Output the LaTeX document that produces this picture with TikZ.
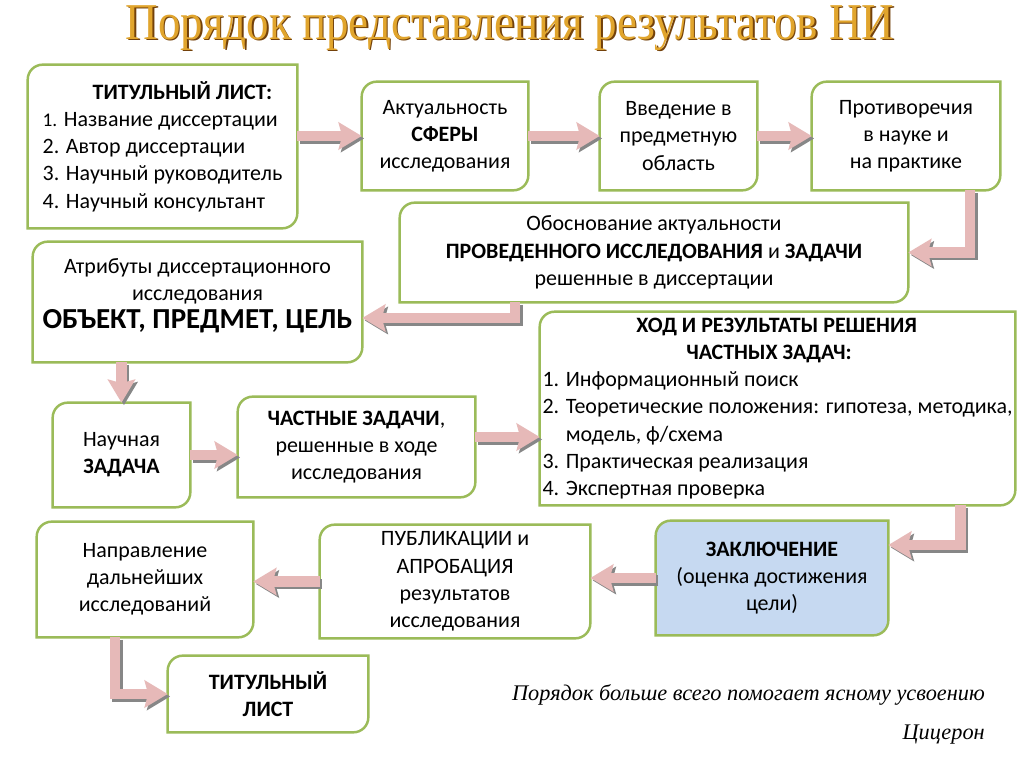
\documentclass[tikz,border=0pt]{standalone}
\usepackage{graphicx}
\usepackage{fontspec}
\setmainfont{Carlito}
\newfontfamily\titlefont{Liberation Serif}
\newfontfamily\quotefont{Liberation Serif}
\usetikzlibrary{arrows.meta,backgrounds}

\definecolor{boxgreen}{RGB}{155,187,89}
\definecolor{arrowpink}{RGB}{230,185,184}
\definecolor{shadegray}{RGB}{135,135,135}
\definecolor{conclblue}{RGB}{198,217,241}
\definecolor{titlegold}{RGB}{225,165,45}
\definecolor{titlebrown}{RGB}{115,65,10}

% frame with two rounded corners (top left, bottom right)
\newlength{\crad}\setlength{\crad}{0.3cm}
\newcommand{\diagframe}[2][white]{%
  \draw[boxline,fill=#1] ([yshift=-\crad]#2.north west)
    arc[start angle=180,end angle=90,radius=\crad] -- (#2.north east)
    -- ([yshift=\crad]#2.south east)
    arc[start angle=0,end angle=-90,radius=\crad] -- (#2.south west) -- cycle;}
% block arrow with shadow
\newcommand{\pinkarrow}[1]{\draw[flowshade] #1; \draw[flow] #1;}
\newcommand{\titletext}{\scalebox{0.915}[1.05]{Порядок представления результатов НИ}}

\begin{document}
\begin{tikzpicture}[x=0.02cm,y=0.02cm,
    box/.style={inner sep=0pt, align=center, font=\fontsize{12.5}{15.5}\selectfont},
    boxline/.style={draw=boxgreen, line width=1.4pt},
    flow/.style={line width=6pt, draw=arrowpink, -{Stealth[width=0.54cm,length=0.46cm,inset=0.07cm]}},
    flowshade/.style={flow, draw=shadegray, transform canvas={xshift=1.4pt,yshift=-1.4pt}}]

    \useasboundingbox (0,0) rectangle (1024,-767);

    % Title
    \node[text=titlebrown, font=\titlefont\fontsize{28}{30}\selectfont] (titleshade) at (511.5,-29.5) {\titletext};
    \node[text=titlegold, font=\titlefont\fontsize{28}{30}\selectfont] (title) at (510,-28) {\titletext};

    % Boxes, first row
    \node[box, minimum width=5.38cm, minimum height=3.26cm, align=left] (tl) at (162.5,-146.5)
        {\hspace*{1cm}\textbf{ТИТУЛЬНЫЙ ЛИСТ:}\\ {\fontsize{11}{15.5}\selectfont 1.} Название диссертации\\ 2. Автор диссертации\\ 3. Научный руководитель\\ 4. Научный консультант};
    \node[box, minimum width=3.32cm, minimum height=2.16cm] (akt) at (445,-136) {Актуальность\\ \textbf{СФЕРЫ}\\ исследования};
    \node[box, minimum width=3.14cm, minimum height=2.16cm] (vved) at (678.5,-136) {Введение в\\ предметную\\ область};
    \node[box, minimum width=3.76cm, minimum height=2.16cm] (prot) at (906,-136) {Противоречия\\ в науке и\\ на практике};

    % Second row
    \node[box, minimum width=10.16cm, minimum height=1.98cm] (obos) at (654,-252.5)
        {Обоснование актуальности\\ \textbf{ПРОВЕДЕННОГО ИССЛЕДОВАНИЯ} и \textbf{ЗАДАЧИ}\\ решенные в диссертации};
    \node[box, minimum width=6.58cm, minimum height=2.4cm] (attr) at (197.5,-302)
        {Атрибуты диссертационного\\ исследования\\ {\fontsize{16.5}{18}\selectfont\textbf{ОБЪЕКТ, ПРЕДМЕТ, ЦЕЛЬ}}\\[-0.2cm]\mbox{}};
    \node[box, minimum width=9.5cm, minimum height=3.86cm, align=left] (hod) at (777.5,-408.5)
        {\hspace*{1.88cm}\textbf{ХОД И РЕЗУЛЬТАТЫ РЕШЕНИЯ}\\ \hspace*{2.88cm}\textbf{ЧАСТНЫХ ЗАДАЧ:}\\
         1. Информационный поиск\\ 2. Теоретические положения: гипотеза, методика,\\ \phantom{2. }модель, ф/схема\\ 3. Практическая реализация\\ 4. Экспертная проверка};

    % Third row
    \node[box, minimum width=2.74cm, minimum height=2.08cm] (zad) at (121.5,-455) {Научная\\ \textbf{ЗАДАЧА}};
    \node[box, minimum width=4.74cm, minimum height=2cm] (chast) at (356.5,-447) {\textbf{ЧАСТНЫЕ ЗАДАЧИ},\\ решенные в ходе\\ исследования};

    % Fourth row
    \node[box, minimum width=4.32cm, minimum height=2.3cm] (napr) at (145,-579.5) {Направление\\ дальнейших\\ исследований};
    \node[box, minimum width=5.4cm, minimum height=2.26cm] (publ) at (455,-581.5) {ПУБЛИКАЦИИ и\\ АПРОБАЦИЯ\\ результатов\\ исследования};
    \node[box, minimum width=4.64cm, minimum height=2.28cm] (zakl) at (772,-578) {\textbf{ЗАКЛЮЧЕНИЕ}\\ (оценка достижения\\ цели)};
    \node[box, minimum width=4cm, minimum height=1.52cm] (tit2) at (268,-694) {\textbf{ТИТУЛЬНЫЙ}\\ \textbf{ЛИСТ}};

    % Frames
    \begin{scope}[on background layer]
        \fill[white] (0,0) rectangle (1024,-767);
        \foreach \b in {tl,akt,vved,prot,obos,attr,hod,zad,chast,napr,publ,tit2} {\diagframe{\b}}
        \diagframe[conclblue]{zakl}
    \end{scope}

    % Arrows
    \pinkarrow{(akt.west -| tl.east) -- (akt.west)}
    \pinkarrow{(akt.east) -- (vved.west)}
    \pinkarrow{(vved.east) -- (prot.west)}
    \pinkarrow{([xshift=1.28cm]prot.south) |- (obos.east)}
    \pinkarrow{([xshift=-2.78cm]obos.south) |- ([yshift=-0.32cm]attr.east)}
    \pinkarrow{(attr.south -| zad.north) -- (zad.north)}
    \pinkarrow{(zad.east) -- (zad.east -| chast.west)}
    \pinkarrow{([yshift=0.2cm]chast.east) -- ([yshift=0.2cm]chast.east -| hod.west)}
    \pinkarrow{([xshift=3.66cm]hod.south) |- ([yshift=0.66cm]zakl.east)}
    \pinkarrow{(zakl.west) -- (zakl.west -| publ.east)}
    \pinkarrow{(publ.west) -- (publ.west -| napr.east)}
    \pinkarrow{([xshift=-0.6cm]napr.south) |- (tit2.west)}

    % Quote
    \node[anchor=east, font=\quotefont\itshape\fontsize{12.7}{15}\selectfont] (quote) at (991,-695) {Порядок больше всего помогает ясному усвоению};
    \node[anchor=east, font=\quotefont\itshape\fontsize{12.7}{15}\selectfont] (author) at (991,-735) {Цицерон};
\end{tikzpicture}
\end{document}
